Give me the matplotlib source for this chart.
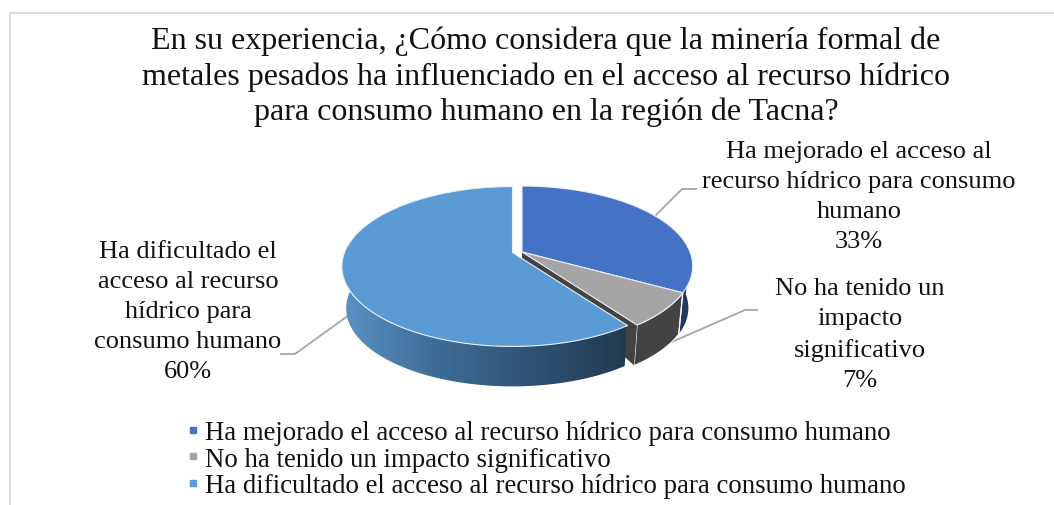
import numpy as np
import matplotlib
matplotlib.use('Agg')
import matplotlib.pyplot as plt
from matplotlib.patches import Polygon
from matplotlib.lines import Line2D

plt.rcParams['font.family'] = ['Liberation Serif', 'DejaVu Serif']

title = ('En su experiencia, ¿Cómo considera que la minería formal de\n'
         'metales pesados ha influenciado en el acceso al recurso hídrico\n'
         'para consumo humano en la región de Tacna?')
categories = ['Ha mejorado el acceso al recurso hídrico para consumo humano',
              'No ha tenido un impacto significativo',
              'Ha dificultado el acceso al recurso hídrico para consumo humano']
label_names = ['Ha mejorado el acceso al\nrecurso hídrico para consumo\nhumano',
               'No ha tenido un\nimpacto\nsignificativo',
               'Ha dificultado el\nacceso al recurso\nhídrico para\nconsumo humano']
values = [33, 7, 60]
colors = ['#4472C4', '#A5A5A5', '#5B9BD5']
wall_colors = ['#1F3864', '#434343', None]

# pie geometry, in pixels of the figure
R = 168.0
RY = 77.5
PERSP = 0.175
DEPTH = 42.3
BOTTOM_SCALE = 0.975
apexes = [(522.0, 253.0), (522.0, 253.0), (512.5, 253.5)]


def rim(theta_deg, apex, bottom=False):
    # theta is clockwise from 12 o'clock, same as the chart
    t = np.radians(theta_deg)
    c = np.sin(t)
    s = -np.cos(t)
    w = 1 - PERSP * s
    x = R * c / w
    y = RY * s / w
    if bottom:
        return apex[0] + x * BOTTOM_SCALE, apex[1] + y * BOTTOM_SCALE + DEPTH
    return apex[0] + x, apex[1] + y


fig = plt.figure(figsize=(10.54, 5.06), dpi=100)
ax = fig.add_axes([0, 0, 1, 1])
ax.set_xlim(0, 1054)
ax.set_ylim(506, 0)
ax.axis('off')

# chart border, only top and left show in the crop
ax.plot([9.5, 9.5, 1054], [506, 13.5, 13.5], color='#D9D9D9', lw=1.3)

ends = np.cumsum(values) / np.sum(values) * 360
starts = np.concatenate([[0], ends[:-1]])

# walls first, back to front
a = apexes[0]
th = np.linspace(90, ends[0], 40)
tx, ty = rim(th, a)
bx, by = rim(th, a, True)
ax.add_patch(Polygon(np.r_[np.c_[tx, ty], np.c_[bx, by][::-1]], fc=wall_colors[0], ec='none', zorder=2))

a = apexes[1]
th = np.linspace(starts[1], ends[1], 30)
tx, ty = rim(th, a)
bx, by = rim(th, a, True)
ax.add_patch(Polygon(np.r_[np.c_[tx, ty], np.c_[bx, by][::-1]], fc=wall_colors[1], ec='white', lw=0.8, zorder=3))
# inner cut face of the grey slice
ox, oy = rim(ends[1], a)
ox2, oy2 = rim(ends[1], a, True)
ax.add_patch(Polygon([a, (a[0], a[1] + DEPTH * 0.3), (ox2, oy2), (ox, oy)], fc=wall_colors[1], ec='none', zorder=3))
ax.plot([rim(starts[1], a)[0], rim(starts[1], a, True)[0]], [rim(starts[1], a)[1], rim(starts[1], a, True)[1]],
        color='white', lw=0.8, zorder=4)

a = apexes[2]
th = np.linspace(starts[2], 300, 80)
tx, ty = rim(th, a)
bx, by = rim(th, a, True)
wall = Polygon(np.r_[np.c_[tx, ty], np.c_[bx, by][::-1]], fc='none', ec='none', zorder=5)
ax.add_patch(wall)
grad = matplotlib.colors.LinearSegmentedColormap.from_list('wall', ['#5B93C6', '#3F6C96', '#2F5375', '#203A50'])
im = ax.imshow(np.linspace(0, 1, 256).reshape(1, -1), cmap=grad, extent=[340, 626, 390, 250],
               aspect='auto', zorder=5)
im.set_clip_path(wall)
ax.set_xlim(0, 1054)
ax.set_ylim(506, 0)

# top faces
for i in range(3):
    th = np.linspace(starts[i], ends[i], 120)
    tx, ty = rim(th, apexes[i])
    pts = np.r_[[apexes[i]], np.c_[tx, ty]]
    ax.add_patch(Polygon(pts, fc=colors[i], ec='#E8EEF5', lw=0.8, zorder=6, joinstyle='round'))

# leader lines
ax.plot([656, 682, 696], [216, 190, 190], color='#A6A6A6', lw=1.3, zorder=1)
ax.plot([658, 745, 757], [349, 311, 311], color='#A6A6A6', lw=1.3, zorder=1)
ax.plot([349, 295, 281], [316, 355, 355], color='#A6A6A6', lw=1.3, zorder=1)

# data labels
label_pos = [(859, 197), (860, 335), (188, 312)]
for i in range(3):
    ax.text(label_pos[i][0], label_pos[i][1], label_names[i] + '\n%d%%' % values[i], ha='center', va='center',
            fontsize=19, linespacing=1.47, color='#111111')

ax.text(546, 77, title, ha='center', va='center', fontsize=23, linespacing=1.26, color='#111111')

handles = [Line2D([], [], ls='none', marker='s', ms=5, color=c) for c in colors]
leg = ax.legend(handles, categories, loc='upper left', bbox_to_anchor=(182 / 1054, 1 - 421 / 506), frameon=False,
                fontsize=19.3, borderpad=0, borderaxespad=0, labelspacing=0.06, handletextpad=0.045, handlelength=0.8,
                labelcolor='#111111')

fig.savefig('out.png', dpi=100)
